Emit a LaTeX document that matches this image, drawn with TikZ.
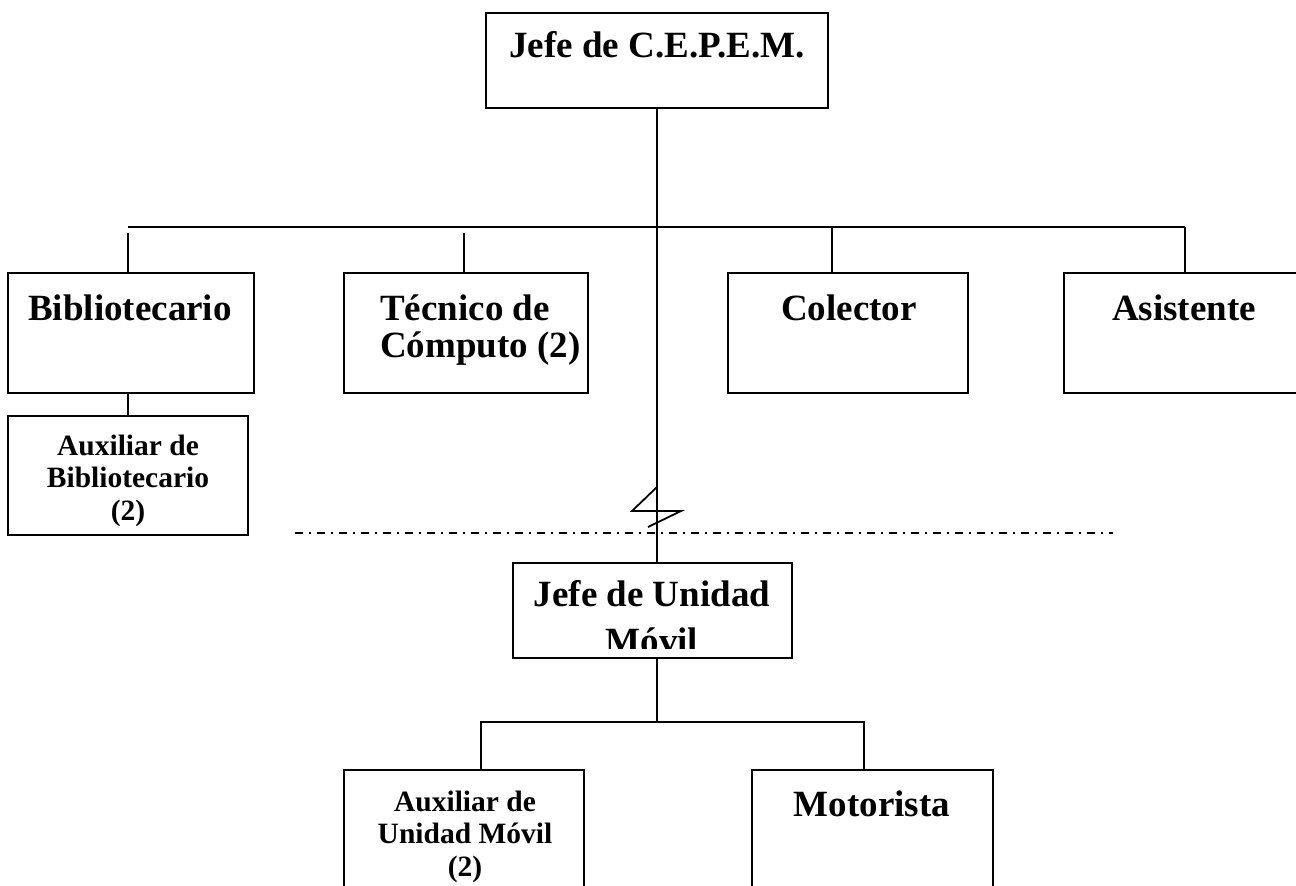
\documentclass[tikz,border=0pt]{standalone}
\usepackage{fontspec}
\setmainfont{Liberation Serif}
\newcommand\bigtxt{\fontsize{37}{37}\selectfont\bfseries}
\newcommand\smalltxt{\fontsize{29.5}{32.5}\selectfont\bfseries}
\begin{document}
\begin{tikzpicture}[x=1pt,y=-1pt,
    box/.style={draw,rectangle,line width=1.8pt,inner sep=0pt},
    big/.style={font=\bigtxt,anchor=base,inner sep=0pt,align=center},
    small/.style={font=\smalltxt,anchor=base,inner sep=0pt,align=center},
    link/.style={line width=1.8pt},
    dashdot/.style={line width=1.6pt,dash pattern=on 8pt off 6pt on 2pt off 6pt}]
    \useasboundingbox (0,0) rectangle (1296,886);
    \clip (0,0) rectangle (1296,886);
    % boxes
    \node[box,minimum width=342pt,minimum height=95pt] (jefe) at (657,60.5) {};
    \node[box,minimum width=246pt,minimum height=120pt] (biblio) at (131,333) {};
    \node[box,minimum width=244pt,minimum height=120pt] (tecnico) at (466,333) {};
    \node[box,minimum width=240pt,minimum height=120pt] (colector) at (848,333) {};
    \node[box,minimum width=236pt,minimum height=120pt] (asist) at (1182,333) {};
    \node[box,minimum width=240pt,minimum height=119pt] (auxb) at (128,475.5) {};
    \node[box,minimum width=279pt,minimum height=95pt] (jum) at (652.5,610.5) {};
    \node[box,minimum width=240pt,minimum height=150pt] (auxum) at (464,845) {};
    \node[box,minimum width=241pt,minimum height=150pt] (motor) at (872.5,845) {};
    % texts (base = last line)
    \node[big] (jefe-t) at (657,57) {Jefe de C.E.P.E.M.};
    \node[big] (biblio-t) at (130,320) {Bibliotecario};
    \node[big,anchor=base west,align=left] (tecnico-t) at (380,357) {Técnico de\\Cómputo (2)};
    \node[big] (colector-t) at (849,320) {Colector};
    \node[big] (asist-t) at (1184,320) {Asistente};
    \node[small] (auxb-t) at (128,520) {Auxiliar de\\Bibliotecario\\(2)};
    \begin{scope}
        \clip (513,565) rectangle (792,648);
        \node[big] (jum-t) at (652,653) {Jefe de Unidad\\[10pt]Móvil};
    \end{scope}
    \node[small] (auxum-t) at (465,876) {Auxiliar de\\Unidad Móvil\\(2)};
    \node[big] (motor-t) at (872,816) {Motorista};
    % upper connectors
    \coordinate (busL) at (128,227);
    \coordinate (busR) at (1185,227);
    \coordinate (d1) at (128,233);
    \coordinate (d2) at (464,233);
    \coordinate (d3) at (832,227);
    \draw[link] (jefe.south) -- (jefe.south |- jum.north);
    \draw[link] (busL) -- (busR);
    \draw[link] (d1) -- (d1 |- biblio.north);
    \draw[link] (d2) -- (d2 |- tecnico.north);
    \draw[link] (d3) -- (d3 |- colector.north);
    \draw[link] (busR) -- (busR |- asist.north);
    \draw[link] (biblio.south -| d1) -- (auxb.north -| d1);
    % break mark and separator
    \coordinate (z1) at (657,487);
    \coordinate (z2) at (632,511);
    \coordinate (z3) at (681,511);
    \coordinate (z4) at (648,527);
    \draw[link] (z1) -- (z2) -- (z3) -- (z4);
    \coordinate (sepL) at (295,533);
    \coordinate (sepR) at (1113,533);
    \draw[dashdot] (sepL) -- (sepR);
    % lower connectors
    \coordinate (bbL) at (481,722);
    \coordinate (bbR) at (864,722);
    \draw[link] (jefe.south |- jum.south) -- (jefe.south |- bbL);
    \draw[link] (auxum.north -| bbL) -- (bbL) -- (bbR) -- (motor.north -| bbR);
\end{tikzpicture}
\end{document}
